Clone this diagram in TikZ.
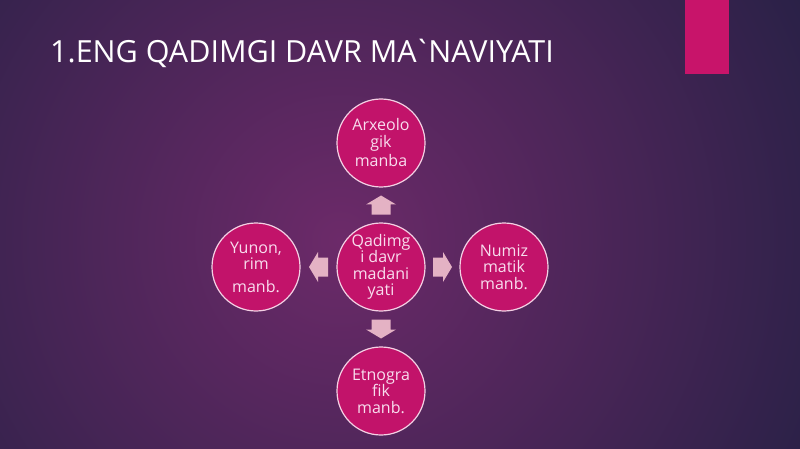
\documentclass[tikz,border=0pt]{standalone}
\usepackage{fontspec}
\setmainfont{Open Sans}
\newfontfamily\titlefont{Open Sans}[Ligatures=TeXOff]
\usetikzlibrary{calc}
\definecolor{bgdark}{HTML}{2A2147}
\definecolor{bglight}{HTML}{6C2A69}
\definecolor{circfill}{HTML}{C2136A}
\definecolor{circline}{HTML}{F4D0E4}
\definecolor{arrfill}{HTML}{E4B2C4}
\definecolor{txt}{HTML}{F8DDEE}
\definecolor{barpink}{HTML}{C8146A}
\tikzset{
  bubble/.style={circle, minimum size=88pt, inner sep=0pt, fill=circfill, draw=circline, line width=1.2pt,
    text=txt, font=\fontsize{16}{16.5}\selectfont, align=center},
  blockarrow/.pic={\fill[arrfill] (-9.5,-9.5) -- (0.5,-9.5) -- (0.5,-15) -- (9.5,0) -- (0.5,15) -- (0.5,9.5) -- (-9.5,9.5) -- cycle;},
}
\begin{document}
\begin{tikzpicture}[x=1pt,y=-1pt]
\useasboundingbox (0,0) rectangle (800,449);
\fill[bgdark] (0,0) rectangle (800,449);
\begin{scope}
  \clip (0,0) rectangle (800,449);
  \shade[inner color=bglight, outer color=bgdark] (340,240) circle[radius=520pt];
\end{scope}
\fill[barpink] (685,0) rectangle (729,74);
\node[anchor=base west, inner sep=0pt, text=white, font=\titlefont\fontsize{30.5}{36}\selectfont] (title) at (50,62.7) {1.ENG QADIMGI DAVR MA\kern-3pt`\kern-3pt NAVIYATI};

\node[bubble] (c) at (381,267) {Qadimg\\i davr\\madani\\yati};
\node[bubble] (t) at (381,143) {Arxeolo\\gik\\[3pt]manba};
\node[bubble] (b) at (381,391) {Etnogra\\fik\\manb.};
\node[bubble] (l) at (256,267) {Yunon,\\rim\\[6pt]manb.};
\node[bubble] (r) at (504,267) {Numiz\\matik\\manb.};

\pic[rotate=90] (at) at ($(c)!0.5!(t)$) {blockarrow};
\pic[rotate=-90] (ab) at ($(c)!0.5!(b)$) {blockarrow};
\pic[rotate=180] (al) at ($(c)!0.5!(l)$) {blockarrow};
\pic (ar) at ($(c)!0.5!(r)$) {blockarrow};
\end{tikzpicture}
\end{document}
